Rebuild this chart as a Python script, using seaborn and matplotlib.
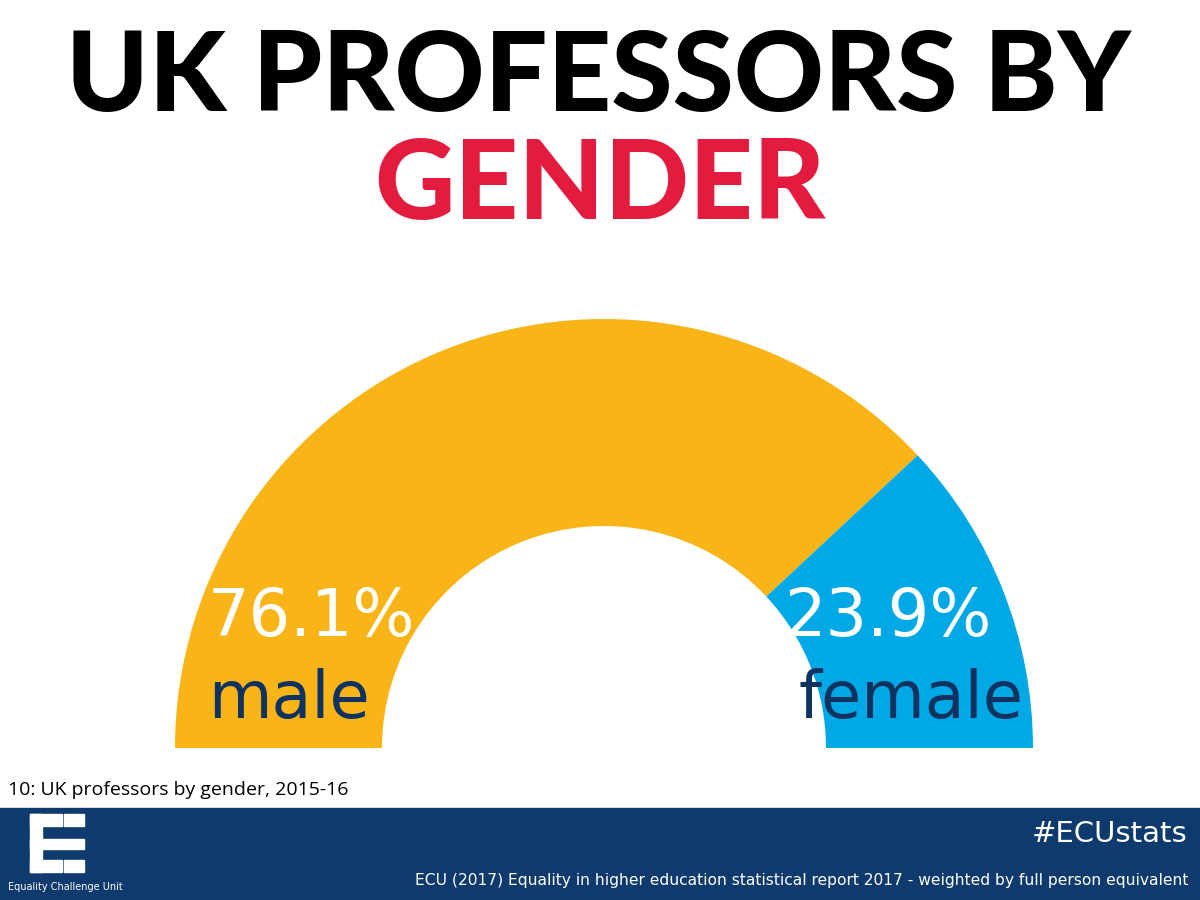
import matplotlib
matplotlib.use("Agg")
import matplotlib.pyplot as plt
import seaborn as sns
from matplotlib.patches import Rectangle

sns.set_theme(style="white")
plt.rcParams['font.family'] = ['Lato', 'DejaVu Sans']

categories = ["male", "female"]
shares = [76.1, 23.9]
pct_labels = ["76.1%", "23.9%"]
colors = ["#F9B418", "#00A9E6"]

fig = plt.figure(figsize=(12, 9), dpi=100)
ax = fig.add_axes([0, 0, 1, 1])
ax.set_xlim(0, 1200); ax.set_ylim(0, 900)

# half donut: invisible lower half
ax.pie(shares + [sum(shares)], colors=colors + ["none"], startangle=180,
       counterclock=False, center=(604, 152), radius=429, frame=True,
       wedgeprops=dict(width=207, linewidth=0))
ax.set_xlim(0, 1200); ax.set_ylim(0, 900)
ax.set_aspect('auto')
ax.axis('off')

ax.text(598, 822, "UK PROFESSORS BY", ha='center', va='center', fontsize=80,
        fontweight='black', color='black')
ax.text(600, 713, "GENDER", ha='center', va='center', fontsize=80,
        fontweight='black', color='#E31B3F')

lab = dict(family='DejaVu Sans', fontsize=47)
ax.text(208, 282, pct_labels[0], ha='left', va='center', color='white', **lab)
ax.text(208, 200, categories[0], ha='left', va='center', color='#0F3360', **lab)
ax.text(992, 282, pct_labels[1], ha='right', va='center', color='white', **lab)
ax.text(1024, 200, categories[1], ha='right', va='center', color='#0F3360', **lab)

ax.text(8, 110, "10: UK professors by gender, 2015-16", ha='left', va='center',
        fontsize=14, color='black', family='Open Sans')

ax.add_patch(Rectangle((0, 0), 1200, 92, color='#0E3A6E', zorder=3))
ax.add_patch(Rectangle((30, 28), 12, 58, color='white', zorder=4))
ax.add_patch(Rectangle((30, 74), 32, 12, color='white', zorder=4))
ax.add_patch(Rectangle((30, 51), 54, 10, color='white', zorder=4))
ax.add_patch(Rectangle((30, 28), 32, 12, color='white', zorder=4))
ax.add_patch(Rectangle((64, 74), 20, 12, color='white', zorder=4))
ax.add_patch(Rectangle((64, 28), 20, 12, color='white', zorder=4))
ax.text(8, 13, "Equality Challenge Unit", ha='left', va='center', fontsize=7,
        color='white', zorder=4, family='DejaVu Sans')
ax.text(1188, 66, "#ECUstats", ha='right', va='center', fontsize=21, color='white',
        zorder=4, family='DejaVu Sans')
ax.text(1188, 20, "ECU (2017) Equality in higher education statistical report 2017 - weighted by full person equivalent",
        ha='right', va='center', fontsize=11.2, color='white', zorder=4, family='DejaVu Sans')

fig.savefig("out.png", dpi=100)
